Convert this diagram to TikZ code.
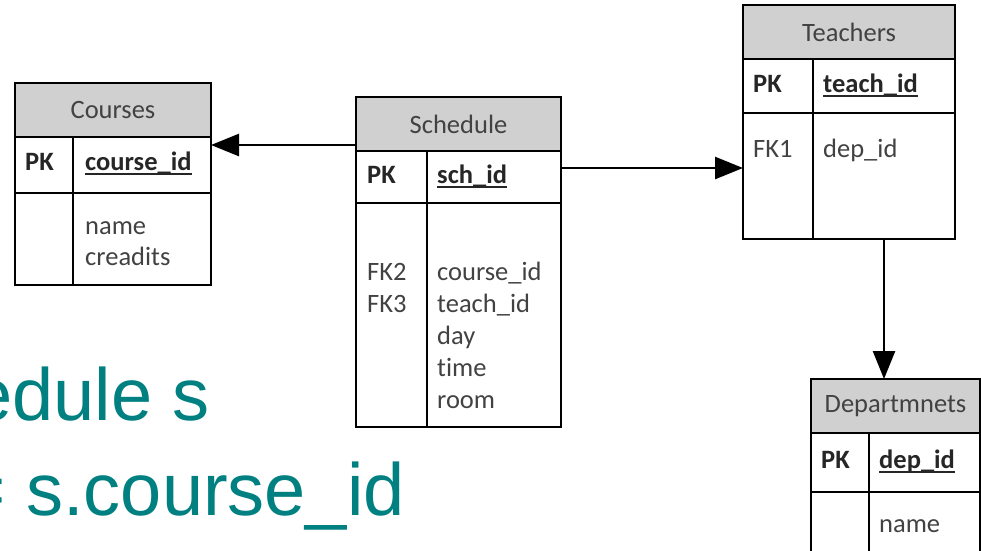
\documentclass[tikz,border=0pt]{standalone}
\usepackage{fontspec}
\setmainfont{Carlito}[Ligatures={NoCommon}]
\newfontfamily\sqlfont{Liberation Sans}
\usetikzlibrary{arrows.meta}

\definecolor{hdgray}{RGB}{208,208,208}
\definecolor{txtgray}{RGB}{66,66,66}
\definecolor{sqlteal}{RGB}{0,128,128}

% primary key field: thick rule under the name
\newcommand\pkname[1]{\setbox0\hbox{#1}\rlap{\rule[-5pt]{\wd0}{2pt}}\box0}

\tikzset{
  tbl/.style={draw, line width=2pt, inner sep=0pt, outer sep=0pt, anchor=north west},
  hd/.style={tbl, fill=hdgray, text=txtgray, font=\fontsize{26.5}{32}\selectfont},
  fld/.style={inner sep=0pt, anchor=base west, align=left, text=txtgray, font=\fontsize{26.5}{32}\selectfont},
  key/.style={fld, text=black!85, font=\fontsize{26.5}{32}\selectfont\bfseries},
  sql/.style={inner sep=0pt, anchor=base east, text=sqlteal, font=\sqlfont\fontsize{74}{80}\selectfont},
  fk/.style={line width=2.6pt, -{Triangle[length=28pt,width=22pt]}},
}

\begin{document}
\begin{tikzpicture}[x=1pt,y=-1pt]
  \useasboundingbox (0,0) rectangle (981,550);
  \clip (0,0) rectangle (981,550);
  \fill[white] (0,0) rectangle (981,550);

  % Courses
  \node[hd, minimum width=196pt, minimum height=54pt] (couHd) at (15,83) {Courses};
  \node[tbl, minimum width=58pt, minimum height=56pt] (couPKk) at (15,137) {};
  \node[tbl, minimum width=138pt, minimum height=56pt] (couPKf) at (73,137) {};
  \node[tbl, minimum width=58pt, minimum height=92pt] (couKeys) at (15,193) {};
  \node[tbl, minimum width=138pt, minimum height=92pt] (couFlds) at (73,193) {};
  \node[key] (couPK) at (25,170) {PK};
  \node[key] (couId) at (85,170) {\pkname{course\_id}};
  \node[fld, font=\fontsize{26.5}{31}\selectfont] (couCols) at (85,265) {name\\creadits};

  % Schedule
  \node[hd, minimum width=205pt, minimum height=54pt] (schHd) at (356,97) {Schedule};
  \node[tbl, minimum width=71pt, minimum height=52pt] (schPKk) at (356,151) {};
  \node[tbl, minimum width=134pt, minimum height=52pt] (schPKf) at (427,151) {};
  \node[tbl, minimum width=71pt, minimum height=224pt] (schKeys) at (356,203) {};
  \node[tbl, minimum width=134pt, minimum height=224pt] (schFlds) at (427,203) {};
  \node[key] (schPK) at (367,183) {PK};
  \node[key] (schId) at (437,183) {\pkname{sch\_id}};
  \node[fld] (schFK) at (367,312) {FK2\\FK3};
  \node[fld] (schCols) at (437,408) {course\_id\\teach\_id\\day\\time\\room};

  % Teachers
  \node[hd, minimum width=212pt, minimum height=54pt] (teaHd) at (743,5) {Teachers};
  \node[tbl, minimum width=70pt, minimum height=54pt] (teaPKk) at (743,59) {};
  \node[tbl, minimum width=142pt, minimum height=54pt] (teaPKf) at (813,59) {};
  \node[tbl, minimum width=70pt, minimum height=126pt] (teaKeys) at (743,113) {};
  \node[tbl, minimum width=142pt, minimum height=126pt] (teaFlds) at (813,113) {};
  \node[key] (teaPK) at (753,92) {PK};
  \node[key] (teaId) at (823,92) {\pkname{teach\_id}};
  \node[fld] (teaFK) at (753,157) {FK1};
  \node[fld] (teaCols) at (823,157) {dep\_id};

  % Departmnets
  \node[hd, minimum width=169pt, minimum height=54pt] (depHd) at (811,379) {Departmnets};
  \node[tbl, minimum width=58pt, minimum height=59pt] (depPKk) at (811,433) {};
  \node[tbl, minimum width=111pt, minimum height=59pt] (depPKf) at (869,433) {};
  \node[tbl, minimum width=58pt, minimum height=80pt] (depKeys) at (811,492) {};
  \node[tbl, minimum width=111pt, minimum height=80pt] (depFlds) at (869,492) {};
  \node[key] (depPK) at (821,468) {PK};
  \node[key] (depId) at (879,468) {\pkname{dep\_id}};
  \node[fld] (depCols) at (879,532) {name};

  % foreign keys
  \coordinate (schL) at ([yshift=6pt]schHd.south west);
  \coordinate (schR) at ([yshift=9pt]schPKf.east);
  \draw[fk] (schL) -- (schL -| couPKf.east);
  \draw[fk] (schR) -- (schR -| teaKeys.west);
  \draw[fk] (teaFlds.south) -- (teaFlds.south |- depHd.north);

  % query text
  \node[sql] (sqlFrom) at (210,420) {edule s};
  \node[sql] (sqlOn) at (405,515) {= s.course\_id};
\end{tikzpicture}
\end{document}
